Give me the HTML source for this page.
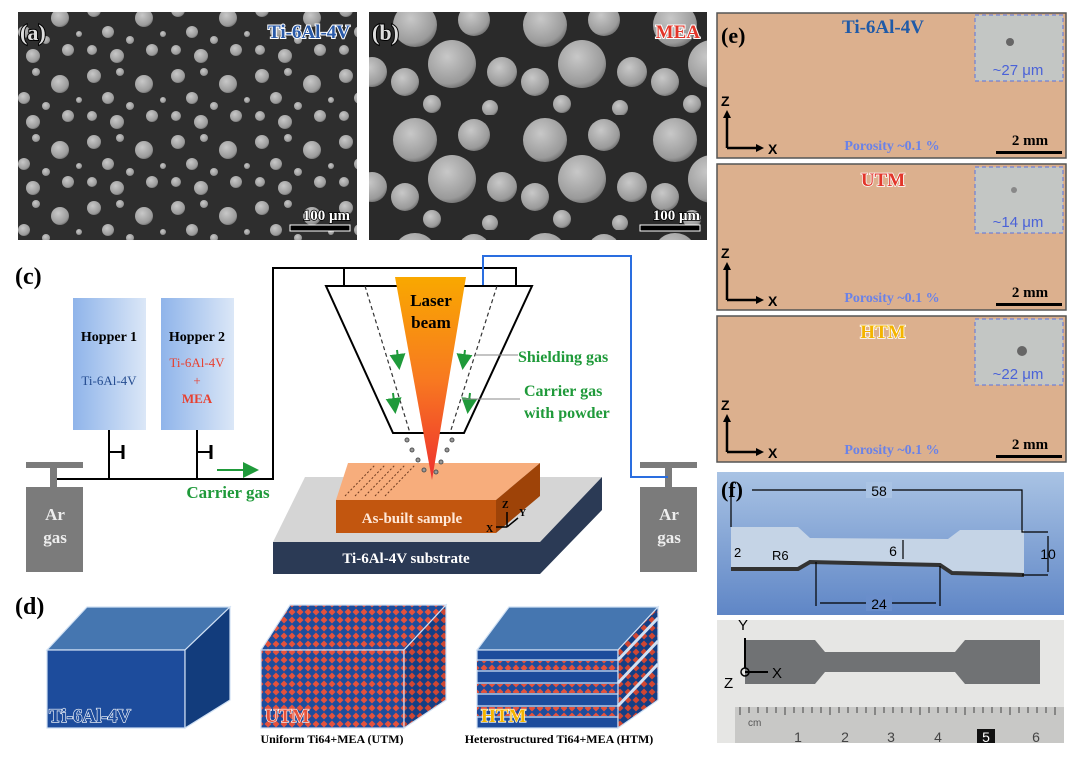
<!DOCTYPE html>
<html><head><meta charset="utf-8"><style>
html,body{margin:0;padding:0;background:#fff;}
svg{display:block;font-family:"Liberation Serif",serif;}
</style></head><body>
<svg width="1080" height="769" viewBox="0 0 1080 769" xmlns="http://www.w3.org/2000/svg">
<defs>
<radialGradient id="ball" cx="0.4" cy="0.35" r="0.7"><stop offset="0" stop-color="#c8c8c8"/><stop offset="0.8" stop-color="#9a9a9a"/><stop offset="1" stop-color="#6a6a6a"/></radialGradient>
<pattern id="semA" width="84" height="66" patternUnits="userSpaceOnUse">
<rect width="84" height="66" fill="#2e2e2e"/>
<circle cx="10" cy="10" r="7" fill="url(#ball)"/><circle cx="36" cy="6" r="4" fill="url(#ball)"/>
<circle cx="60" cy="18" r="9" fill="url(#ball)"/><circle cx="24" cy="32" r="6" fill="url(#ball)"/>
<circle cx="46" cy="40" r="4" fill="url(#ball)"/><circle cx="8" cy="50" r="5" fill="url(#ball)"/>
<circle cx="33" cy="56" r="7" fill="url(#ball)"/><circle cx="68" cy="50" r="6" fill="url(#ball)"/>
<circle cx="79" cy="34" r="3" fill="url(#ball)"/>
</pattern>
<pattern id="semB" width="130" height="115" patternUnits="userSpaceOnUse">
<rect width="130" height="115" fill="#2a2a2a"/>
<circle cx="25" cy="25" r="22" fill="url(#ball)"/><circle cx="84" cy="20" r="16" fill="url(#ball)"/>
<circle cx="62" cy="64" r="24" fill="url(#ball)"/><circle cx="15" cy="82" r="14" fill="url(#ball)"/>
<circle cx="112" cy="72" r="15" fill="url(#ball)"/><circle cx="42" cy="104" r="9" fill="url(#ball)"/>
<circle cx="100" cy="108" r="8" fill="url(#ball)"/>
</pattern>
<pattern id="chk" width="8" height="8" patternUnits="userSpaceOnUse">
<rect width="8" height="8" fill="#1d4c9c"/><path d="M4 0.5 L7.5 4 L4 7.5 L0.5 4Z" fill="#e4523c"/>
</pattern>
<pattern id="chk2" width="8" height="8" patternUnits="userSpaceOnUse">
<rect width="8" height="8" fill="#143e84"/><path d="M4 0.5 L7.5 4 L4 7.5 L0.5 4Z" fill="#d04632"/>
</pattern>
<linearGradient id="hop" x1="0" x2="1"><stop offset="0" stop-color="#8fb4ea"/><stop offset="1" stop-color="#dbe7f7"/></linearGradient>
<linearGradient id="laser" x1="0" y1="0" x2="0" y2="1"><stop offset="0" stop-color="#f9a800"/><stop offset="0.5" stop-color="#f87a20"/><stop offset="1" stop-color="#ee3030"/></linearGradient>
<linearGradient id="fblue" x1="0" y1="0" x2="0" y2="1"><stop offset="0" stop-color="#a9c3e4"/><stop offset="1" stop-color="#5f86c6"/></linearGradient>
<marker id="ag" markerWidth="8" markerHeight="8" refX="6" refY="4" orient="auto"><path d="M0 0L8 4L0 8Z" fill="#1f9a3a"/></marker>
</defs>

<!-- (a) -->
<rect x="18" y="12" width="339" height="228" fill="url(#semA)"/>
<text x="20" y="40" font-size="22" font-weight="bold" fill="#ddd" stroke="#000" stroke-width="2" paint-order="stroke">(a)</text>
<text x="350" y="38" font-size="19" font-weight="bold" fill="#2a5aa8" text-anchor="end" stroke="#fff" stroke-width="2" paint-order="stroke">Ti-6Al-4V</text>
<text x="350" y="220" font-size="15" font-weight="bold" fill="#fff" text-anchor="end" stroke="#000" stroke-width="1.5" paint-order="stroke">100 μm</text>
<rect x="290" y="225" width="60" height="6" fill="#000" stroke="#fff" stroke-width="1"/>
<!-- (b) -->
<rect x="369" y="12" width="338" height="228" fill="url(#semB)"/>
<text x="372" y="40" font-size="22" font-weight="bold" fill="#ddd" stroke="#000" stroke-width="2" paint-order="stroke">(b)</text>
<text x="700" y="38" font-size="19" font-weight="bold" fill="#e2362a" text-anchor="end" stroke="#fff" stroke-width="2" paint-order="stroke">MEA</text>
<text x="700" y="220" font-size="15" font-weight="bold" fill="#fff" text-anchor="end" stroke="#000" stroke-width="1.5" paint-order="stroke">100 μm</text>
<rect x="640" y="225" width="60" height="6" fill="#000" stroke="#fff" stroke-width="1"/>

<!-- (e) -->
<g>
<rect x="717" y="13" width="349" height="145" fill="#dcb08e" stroke="#555" stroke-width="1.5"/>
<rect x="975" y="15" width="88" height="66" fill="#c3c6c4" stroke="#5a72e0" stroke-dasharray="4 3"/>
<circle cx="1010" cy="42" r="4" fill="#666"/>
<text x="1018" y="75" font-family="Liberation Sans,sans-serif" font-size="15" fill="#4a62d8" text-anchor="middle">~27 μm</text>
<text x="883" y="33" font-size="19" font-weight="bold" fill="#1f5aa8" text-anchor="middle">Ti-6Al-4V</text>
</g>
<g>
<rect x="717" y="164" width="349" height="146" fill="#dcb08e" stroke="#555" stroke-width="1.5"/>
<rect x="975" y="167" width="88" height="66" fill="#c3c6c4" stroke="#5a72e0" stroke-dasharray="4 3"/>
<circle cx="1014" cy="190" r="3" fill="#888"/>
<text x="1018" y="227" font-family="Liberation Sans,sans-serif" font-size="15" fill="#4a62d8" text-anchor="middle">~14 μm</text>
<text x="883" y="186" font-size="19" font-weight="bold" fill="#e2362a" text-anchor="middle" stroke="#fff" stroke-width="1.5" paint-order="stroke">UTM</text>
</g>
<g>
<rect x="717" y="316" width="349" height="146" fill="#dcb08e" stroke="#555" stroke-width="1.5"/>
<rect x="975" y="319" width="88" height="66" fill="#c3c6c4" stroke="#5a72e0" stroke-dasharray="4 3"/>
<circle cx="1022" cy="351" r="5" fill="#666"/>
<text x="1018" y="379" font-family="Liberation Sans,sans-serif" font-size="15" fill="#4a62d8" text-anchor="middle">~22 μm</text>
<text x="883" y="338" font-size="19" font-weight="bold" fill="#f4b400" text-anchor="middle" stroke="#fff" stroke-width="1.5" paint-order="stroke">HTM</text>
</g>
<g id="ax">
<text x="721" y="106" font-family="Liberation Sans,sans-serif" font-size="14" font-weight="bold">Z</text>
<path d="M727 148 V116 M727 148 H758" stroke="#000" stroke-width="2.5" fill="none"/>
<path d="M723 118 L727 110 L731 118Z M756 144 L764 148 L756 152Z"/>
<text x="768" y="154" font-family="Liberation Sans,sans-serif" font-size="14" font-weight="bold">X</text>
<text x="892" y="150" font-size="14" font-weight="bold" fill="#6a82e8" text-anchor="middle">Porosity ~0.1 %</text>
<text x="1030" y="145" font-size="15" font-weight="bold" text-anchor="middle">2 mm</text>
<rect x="996" y="151" width="66" height="3"/>
</g>
<use href="#ax" y="152"/>
<use href="#ax" y="304"/>
<text x="721" y="43" font-size="22" font-weight="bold">(e)</text>

<!-- (c) -->
<text x="15" y="284" font-size="24" font-weight="bold">(c)</text>
<rect x="73" y="298" width="73" height="132" fill="url(#hop)"/>
<rect x="161" y="298" width="73" height="132" fill="url(#hop)"/>
<text x="109" y="341" font-size="14" font-weight="bold" text-anchor="middle">Hopper 1</text>
<text x="109" y="385" font-size="13" fill="#244c90" text-anchor="middle">Ti-6Al-4V</text>
<text x="197" y="341" font-size="14" font-weight="bold" text-anchor="middle">Hopper 2</text>
<text x="197" y="367" font-size="13" fill="#e84030" text-anchor="middle">Ti-6Al-4V</text>
<text x="197" y="385" font-size="13" fill="#e84030" text-anchor="middle">+</text>
<text x="197" y="403" font-size="13" fill="#e84030" text-anchor="middle" font-weight="bold">MEA</text>
<path d="M109 430 V479 M197 430 V479 M109 452 H123 M197 452 H211 M57 479 H273 V268 H516 V291 M344 268 V291" stroke="#000" stroke-width="2" fill="none"/>
<path d="M123 445 V459 M211 445 V459" stroke="#000" stroke-width="3"/>
<line x1="217" y1="470" x2="255" y2="470" stroke="#1f9a3a" stroke-width="2" marker-end="url(#ag)"/>
<text x="228" y="498" font-size="17" font-weight="bold" fill="#1f9a3a" text-anchor="middle">Carrier gas</text>
<!-- tanks -->
<rect x="26" y="462" width="57" height="6" fill="#7b7b7b"/><rect x="50" y="467" width="7" height="21" fill="#7b7b7b"/>
<rect x="26" y="487" width="57" height="85" fill="#7b7b7b"/>
<text x="55" y="520" font-size="17" font-weight="bold" fill="#eee" text-anchor="middle">Ar</text>
<text x="55" y="543" font-size="17" font-weight="bold" fill="#eee" text-anchor="middle">gas</text>
<rect x="640" y="462" width="57" height="6" fill="#7b7b7b"/><rect x="665" y="467" width="7" height="21" fill="#7b7b7b"/>
<rect x="640" y="487" width="57" height="85" fill="#7b7b7b"/>
<text x="669" y="520" font-size="17" font-weight="bold" fill="#eee" text-anchor="middle">Ar</text>
<text x="669" y="543" font-size="17" font-weight="bold" fill="#eee" text-anchor="middle">gas</text>
<path d="M483 286 V256 H631 V477 H668" stroke="#2a6ee0" stroke-width="2" fill="none"/>
<!-- substrate -->
<path d="M273 542 L305 477 L602 477 L540 542Z" fill="#d5d5d5"/>
<rect x="273" y="542" width="267" height="32" fill="#2b3a55"/>
<path d="M540 542 L602 477 L602 510 L540 574Z" fill="#2b3a55"/>
<text x="406" y="563" font-size="15" font-weight="bold" fill="#fff" text-anchor="middle">Ti-6Al-4V substrate</text>
<!-- sample -->
<path d="M336 500 L348 463 L540 463 L496 500Z" fill="#f7ad7c"/>
<rect x="336" y="500" width="160" height="33" fill="#c2560f"/>
<path d="M496 500 L540 463 L540 496 L496 533Z" fill="#9e4308"/>
<path d="M345 496 L375 465 M355 496 L385 465 M365 496 L395 465 M375 496 L405 465 M385 496 L415 465" stroke="#6b3a20" stroke-width="1" stroke-dasharray="2 2"/>
<text x="412" y="523" font-size="15" font-weight="bold" fill="#ffe8d8" text-anchor="middle">As-built sample</text>
<path d="M507 527 V512 M507 527 L518 518 M507 527 H496" stroke="#000" stroke-width="1.5"/>
<text x="502" y="508" font-size="10" font-weight="bold">Z</text><text x="519" y="516" font-size="10" font-weight="bold">Y</text><text x="486" y="532" font-size="10" font-weight="bold">X</text>
<!-- nozzle -->
<path d="M326 286 L532 286 L464 433 L393 433Z" fill="#fff" stroke="#000" stroke-width="2"/>
<path d="M365 286 L410 433 M497 286 L450 433" stroke="#333" stroke-width="1.2" stroke-dasharray="4 3"/>
<path d="M395 277 L466 277 L432 480Z" fill="url(#laser)"/>
<text x="431" y="306" font-size="17" font-weight="bold" text-anchor="middle">Laser</text>
<text x="431" y="328" font-size="17" font-weight="bold" text-anchor="middle">beam</text>
<g stroke="#555" fill="#999"><circle cx="407" cy="440" r="2"/><circle cx="412" cy="450" r="2"/><circle cx="418" cy="460" r="2"/><circle cx="424" cy="470" r="2"/><circle cx="452" cy="440" r="2"/><circle cx="447" cy="450" r="2"/><circle cx="441" cy="462" r="2"/><circle cx="436" cy="472" r="2"/></g>
<g stroke="#1f9a3a" stroke-width="2"><line x1="397" y1="350" x2="399" y2="366" marker-end="url(#ag)"/><line x1="465" y1="350" x2="463" y2="366" marker-end="url(#ag)"/><line x1="393" y1="393" x2="395" y2="410" marker-end="url(#ag)"/><line x1="470" y1="393" x2="468" y2="410" marker-end="url(#ag)"/></g>
<path d="M475 355 H518 M462 399 H520" stroke="#888" stroke-width="1"/>
<text x="518" y="362" font-size="16" font-weight="bold" fill="#1f9a3a">Shielding gas</text>
<text x="524" y="396" font-size="16" font-weight="bold" fill="#1f9a3a">Carrier gas</text>
<text x="524" y="418" font-size="16" font-weight="bold" fill="#1f9a3a">with powder</text>

<!-- (d) -->
<text x="15" y="614" font-size="24" font-weight="bold">(d)</text>
<path d="M47 650 L87 607 L230 607 L185 650Z" fill="#4576b0" stroke="#cfe0f4" stroke-width="1.2"/>
<rect x="47" y="650" width="138" height="78" fill="#1d4c9c" stroke="#cfe0f4" stroke-width="1.2"/>
<path d="M185 650 L230 607 L230 700 L185 728Z" fill="#123c7c" stroke="#cfe0f4" stroke-width="1.2"/>
<text x="49" y="722" font-size="19" font-weight="bold" fill="#1d4c9c" stroke="#fff" stroke-width="1.2" paint-order="stroke">Ti-6Al-4V</text>

<path d="M261 650 L290 605 L446 605 L404 650Z" fill="url(#chk)" stroke="#cfe0f4" stroke-width="1.2"/>
<rect x="261" y="650" width="143" height="78" fill="url(#chk)" stroke="#cfe0f4" stroke-width="1.2"/>
<path d="M404 650 L446 605 L446 700 L404 728Z" fill="url(#chk2)" stroke="#cfe0f4" stroke-width="1.2"/>
<text x="265" y="722" font-size="19" font-weight="bold" fill="#e4523c" stroke="#fff" stroke-width="1.2" paint-order="stroke">UTM</text>
<text x="332" y="743" font-size="12" font-weight="bold" text-anchor="middle">Uniform Ti64+MEA (UTM)</text>

<path d="M477 650 L509 607 L658 607 L618 650Z" fill="#4576b0" stroke="#cfe0f4" stroke-width="1.2"/>
<rect x="477" y="650" width="141" height="78" fill="#1d4c9c" stroke="#cfe0f4" stroke-width="1.2"/>
<rect x="477" y="661" width="141" height="9" fill="url(#chk)"/>
<rect x="477" y="684" width="141" height="9" fill="url(#chk)"/>
<rect x="477" y="707" width="141" height="9" fill="url(#chk)"/>
<path d="M477 660 H618 M477 671 H618 M477 683 H618 M477 694 H618 M477 706 H618 M477 717 H618" stroke="#cfe0f4" stroke-width="1.2"/>
<path d="M618 650 L658 607 L658 700 L618 728Z" fill="url(#chk2)" stroke="#cfe0f4" stroke-width="1.2"/>
<path d="M618 660 L658 618 M618 683 L658 641 M618 706 L658 664" stroke="#cfe0f4" stroke-width="3"/>
<text x="481" y="722" font-size="19" font-weight="bold" fill="#f4b400" stroke="#fff" stroke-width="1.2" paint-order="stroke">HTM</text>
<text x="559" y="743" font-size="12" font-weight="bold" text-anchor="middle">Heterostructured Ti64+MEA (HTM)</text>

<!-- (f) -->
<rect x="717" y="472" width="347" height="143" fill="url(#fblue)"/>
<path d="M731 527 L798 527 L810 538 L948 539 L960 530 L1024 530 L1024 574 L950 572 L940 566 L810 563 L798 569 L731 569Z" fill="#c5d4e6"/>
<path d="M731 569 L798 569 L810 562 L940 565 L952 573 L1024 575" stroke="#333" stroke-width="4" fill="none"/>
<text x="721" y="497" font-size="22" font-weight="bold">(f)</text>
<path d="M752 490 H1022 V532 H1048 M1022 575 H1048 M816 562 V606 M940 566 V606 M731 495 V527" stroke="#000" stroke-width="1.2" fill="none"/>
<rect x="866" y="482" width="26" height="16" fill="#a9c3e4"/>
<text x="879" y="496" font-family="Liberation Sans,sans-serif" font-size="14" text-anchor="middle">58</text>
<path d="M820 603 H936" stroke="#000" stroke-width="1.2"/>
<rect x="866" y="595" width="26" height="16" fill="#6a8ecb"/>
<text x="879" y="609" font-family="Liberation Sans,sans-serif" font-size="14" text-anchor="middle">24</text>
<path d="M1048 536 V572 M903 540 V559" stroke="#000" stroke-width="1.2"/>
<text x="1048" y="559" font-family="Liberation Sans,sans-serif" font-size="14" text-anchor="middle">10</text>
<text x="893" y="556" font-family="Liberation Sans,sans-serif" font-size="14" text-anchor="middle">6</text>
<text x="734" y="557" font-family="Liberation Sans,sans-serif" font-size="13">2</text>
<text x="772" y="560" font-family="Liberation Sans,sans-serif" font-size="13">R6</text>
<rect x="717" y="620" width="347" height="123" fill="#e6e6e4"/>
<path d="M745 640 L815 640 L825 652 L955 652 L965 640 L1040 640 L1040 684 L965 684 L955 672 L825 672 L815 684 L745 684Z" fill="#707274"/>
<path d="M745 668 V638 M745 672 H768" stroke="#000" stroke-width="2"/>
<circle cx="745" cy="672" r="4" fill="none" stroke="#000" stroke-width="1.5"/>
<text x="738" y="630" font-family="Liberation Sans,sans-serif" font-size="15">Y</text>
<text x="772" y="678" font-family="Liberation Sans,sans-serif" font-size="15">X</text>
<text x="724" y="688" font-family="Liberation Sans,sans-serif" font-size="15">Z</text>
<rect x="735" y="707" width="329" height="36" fill="#c8c8c6"/>
<path d="M740 707 v8 M749 707 v6 M758 707 v6 M767 707 v6 M776 707 v6 M785 707 v8 M794 707 v6 M803 707 v6 M812 707 v6 M821 707 v6 M830 707 v8 M839 707 v6 M848 707 v6 M857 707 v6 M866 707 v6 M875 707 v8 M884 707 v6 M893 707 v6 M902 707 v6 M911 707 v6 M920 707 v8 M929 707 v6 M938 707 v6 M947 707 v6 M956 707 v6 M965 707 v8 M974 707 v6 M983 707 v6 M992 707 v6 M1001 707 v6 M1010 707 v8 M1019 707 v6 M1028 707 v6 M1037 707 v6 M1046 707 v6 M1055 707 v8" stroke="#444" stroke-width="1"/>
<text x="748" y="726" font-family="Liberation Sans,sans-serif" font-size="10" fill="#555">cm</text>
<rect x="977" y="729" width="18" height="14" fill="#111"/>
<g font-family="Liberation Sans,sans-serif" font-size="14" fill="#444" text-anchor="middle"><text x="798" y="742">1</text><text x="845" y="742">2</text><text x="891" y="742">3</text><text x="938" y="742">4</text><text x="986" y="742" fill="#fff">5</text><text x="1036" y="742">6</text></g>
</svg>
</body></html>
